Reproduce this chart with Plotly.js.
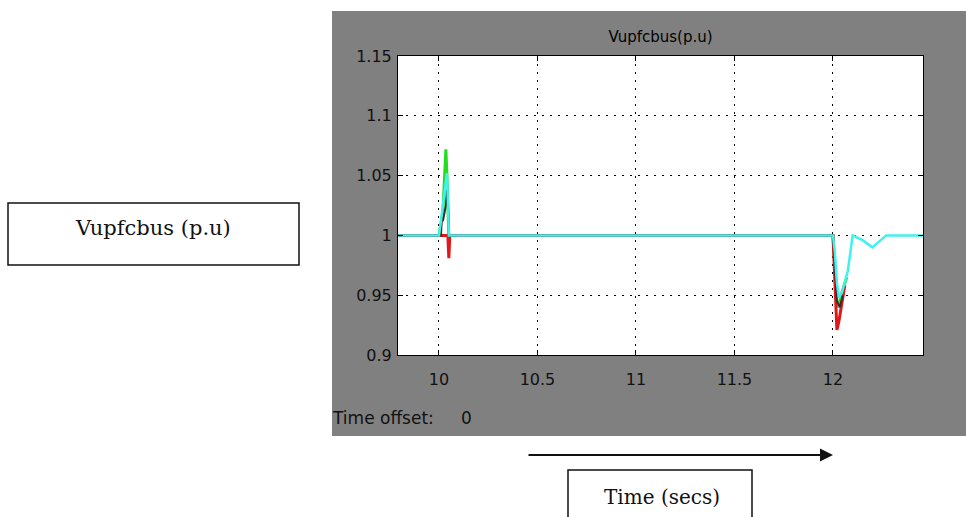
<!DOCTYPE html>
<html>
<head>
<meta charset="utf-8">
<script src="https://cdn.plot.ly/plotly-3.0.1.min.js"></script>
<style>
  html, body { margin: 0; padding: 0; background: #ffffff; }
  #chart { width: 966px; height: 517px; }
</style>
</head>
<body>
<div id="chart"></div>
<script>
// ---- data ----
const chartTitle = "Vupfcbus(p.u)";
const sideLabel = "Vupfcbus (p.u)";
const timeLabel = "Time (secs)";
const offsetLabel = "Time offset:";
const offsetValue = "0";

const xTickVals = [10, 10.5, 11, 11.5, 12];
const xTickText = ["10", "10.5", "11", "11.5", "12"];
const yTickVals = [0.9, 0.95, 1, 1.05, 1.1, 1.15];
const yTickText = ["0.9", "0.95", "1", "1.05", "1.1", "1.15"];
const xRange = [9.792, 12.457];
const yRange = [0.9, 1.15];

// green signal
const greenT = [9.792, 10.0, 10.02, 10.035, 10.04, 10.045, 10.05, 12.0, 12.005, 12.012, 12.02, 12.03, 12.045, 12.06, 12.07];
const greenV = [1.0,   1.0,  1.02,  1.072,  1.052, 1.03,   1.0,   1.0,  0.985,  0.96,   0.945, 0.94,  0.952,  0.96,  0.965];
// red signal
const redT = [9.792, 10.045, 10.05, 10.055, 12.0, 12.006, 12.013, 12.02, 12.03, 12.045, 12.06];
const redV = [1.0,   1.0,    0.981, 1.0,    1.0,  0.975,  0.945,  0.921, 0.928, 0.945,  0.958];
// dark signal
const darkT = [9.792, 10.01, 10.015, 10.02, 10.035, 10.04, 10.045, 10.05, 12.0, 12.01, 12.02, 12.035, 12.05];
const darkV = [1.0,   1.0,   1.016,  1.012, 1.025,  1.038, 1.03,   1.0,   1.0,  0.97,  0.945, 0.94,   0.95];
// cyan signal
const cyanT = [9.792, 10.0, 10.01, 10.025, 10.035, 10.04, 10.045, 10.05, 12.0, 12.01, 12.02, 12.03, 12.045, 12.06, 12.075, 12.1, 12.15, 12.2, 12.27, 12.457];
const cyanV = [1.0,   1.0,  1.012, 1.03,   1.045,  1.052, 1.03,   1.0,   1.0,  0.985, 0.96,  0.948, 0.952,  0.962, 0.97,   1.0,  0.996, 0.99, 1.0,   1.0];

// ---- layout geometry (pixels) ----
const W = 966, H = 517;
const plotL = 398, plotR = 923, plotT = 56, plotB = 355;
const px = p => (p - plotL) / (plotR - plotL);
const py = p => (plotB - p) / (plotB - plotT);

const sans = "DejaVu Sans, Arial, sans-serif";
const serif = "DejaVu Serif, Liberation Serif, serif";

const traces = [
  {x: greenT, y: greenV, mode: "lines", line: {color: "#22dd22", width: 3}, hoverinfo: "skip"},
  {x: redT, y: redV, mode: "lines", line: {color: "#e01818", width: 3}, hoverinfo: "skip"},
  {x: darkT, y: darkV, mode: "lines", line: {color: "#3a2a30", width: 2}, hoverinfo: "skip"},
  {x: cyanT, y: cyanV, mode: "lines", line: {color: "#3ff2ee", width: 2.5}, hoverinfo: "skip"}
];

const axisCommon = {
  showline: true, linecolor: "#000", linewidth: 1, mirror: "ticks",
  ticks: "inside", ticklen: 5, tickcolor: "#000", tickwidth: 1,
  showgrid: true, gridcolor: "#000", gridwidth: 1, griddash: "2px,6px",
  zeroline: false, tickfont: {family: sans, size: 16, color: "#111"},
  fixedrange: true
};

const layout = {
  width: W, height: H,
  margin: {l: plotL, r: W - plotR, t: plotT, b: H - plotB, pad: 0},
  paper_bgcolor: "#ffffff",
  plot_bgcolor: "rgba(0,0,0,0)",
  showlegend: false,
  title: {text: chartTitle, x: 0.5, xref: "paper", xanchor: "center",
          y: 1 - 37 / H, yref: "container", yanchor: "middle",
          font: {family: sans, size: 15, color: "#000"}},
  xaxis: Object.assign({}, axisCommon, {range: xRange, tickvals: xTickVals, ticktext: xTickText, ticklabelstandoff: 10}),
  yaxis: Object.assign({}, axisCommon, {range: yRange, tickvals: yTickVals, ticktext: yTickText, ticklabelstandoff: 2}),
  shapes: [
    {type: "rect", xref: "paper", yref: "paper", layer: "below",
     x0: px(332), x1: px(975), y0: py(436), y1: py(11),
     fillcolor: "#808080", line: {width: 0}},
    {type: "rect", xref: "paper", yref: "paper", layer: "below",
     x0: 0, x1: 1, y0: 0, y1: 1, fillcolor: "#ffffff", line: {width: 0}},
    {type: "rect", xref: "paper", yref: "paper", layer: "above",
     x0: px(8), x1: px(299), y0: py(265), y1: py(203),
     fillcolor: "rgba(0,0,0,0)", line: {color: "#111", width: 1.5}},
    {type: "rect", xref: "paper", yref: "paper", layer: "above",
     x0: px(568), x1: px(752), y0: py(540), y1: py(470),
     fillcolor: "rgba(0,0,0,0)", line: {color: "#111", width: 1.5}}
  ],
  annotations: [
    {text: sideLabel, xref: "paper", yref: "paper", x: px(153), y: py(228),
     xanchor: "center", yanchor: "middle", showarrow: false,
     font: {family: serif, size: 21, color: "#111"}},
    {text: timeLabel, xref: "paper", yref: "paper", x: px(662), y: py(497),
     xanchor: "center", yanchor: "middle", showarrow: false,
     font: {family: serif, size: 20, color: "#111"}},
    {text: offsetLabel, xref: "paper", yref: "paper", x: px(330), y: py(418),
     xanchor: "left", yanchor: "middle", showarrow: false,
     font: {family: sans, size: 17, color: "#111"}},
    {text: offsetValue, xref: "paper", yref: "paper", x: px(466), y: py(418),
     xanchor: "center", yanchor: "middle", showarrow: false,
     font: {family: sans, size: 17, color: "#111"}},
    {text: "", xref: "paper", yref: "paper", x: px(833), y: py(455),
     showarrow: true, ax: -(833 - 527), ay: 0, axref: "pixel", ayref: "pixel",
     arrowhead: 2, arrowsize: 1.3, arrowwidth: 2, arrowcolor: "#111", standoff: 0}
  ]
};

Plotly.newPlot("chart", traces, layout, {displayModeBar: false, staticPlot: true});
</script>
</body>
</html>
